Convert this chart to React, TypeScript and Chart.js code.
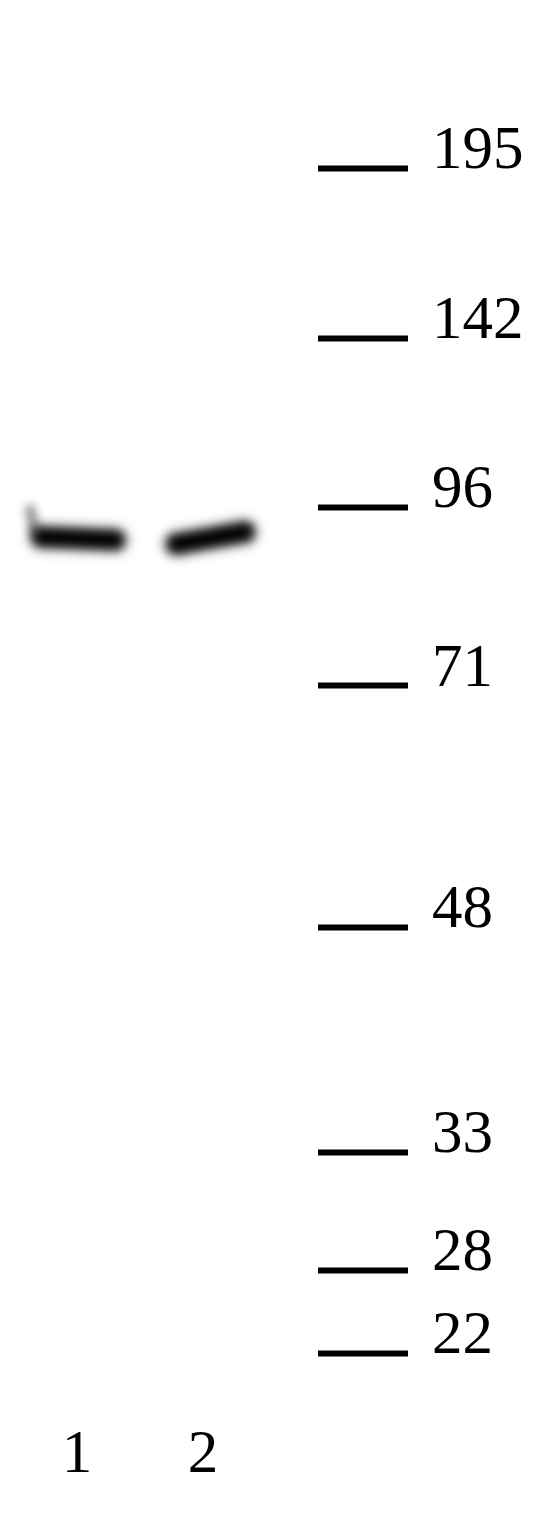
import { useEffect, useRef } from 'react'
import { Chart, ChartConfiguration, registerables } from 'chart.js'

Chart.register(...registerables)

// Molecular weight ladder (kDa) and where each marker ran (mm from the top of the gel)
const markerKDa = [195, 142, 96, 71, 48, 33, 28, 22]
const markerMigration = [8.4, 16.9, 25.35, 34.3, 46.35, 57.6, 63.5, 67.65]

// Lanes
const laneLabels = ['1', '2']
const lanePositions = [1, 2]

// Detected band per lane: left/right edge (lane units) and migration at each edge (mm)
const bandStart = [0.72, 1.79]
const bandEnd = [1.3, 2.33]
const bandMigStart = [26.85, 27.2]
const bandMigEnd = [27.0, 26.6]

// Faint smear at the left edge of lane 1
const smearX = [0.63, 0.66]
const smearMig = [25.5, 26.5]

const FONT = '"Liberation Serif", "Times New Roman", serif'

const bandLayers = [
  { width: 36, color: 'rgba(0,0,0,0.12)' },
  { width: 24, color: 'rgba(0,0,0,0.5)' },
  { width: 15, color: '#000' },
]

// soften the bands like a scanned film
const blurPlugin = {
  id: 'bandBlur',
  beforeDatasetsDraw(chart: Chart) {
    chart.ctx.save()
    chart.ctx.filter = 'blur(4px)'
  },
  afterDatasetsDraw(chart: Chart) {
    chart.ctx.restore()
  },
}

const WesternBlot = () => {
  const canvasRef = useRef<HTMLCanvasElement>(null)
  const chartRef = useRef<Chart | null>(null)

  useEffect(() => {
    const ctx = canvasRef.current?.getContext('2d')
    if (!ctx) return

    const datasets: any[] = [
      {
        type: 'line',
        label: 'smear',
        data: smearX.map((x, i) => ({ x, y: smearMig[i] })),
        borderColor: 'rgba(0,0,0,0.4)',
        borderWidth: 11,
        borderCapStyle: 'round',
        pointRadius: 0,
      },
    ]
    bandLayers.forEach(layer => {
      lanePositions.forEach((_, i) => {
        datasets.push({
          type: 'line',
          label: `lane ${laneLabels[i]}`,
          data: [
            { x: bandStart[i], y: bandMigStart[i] },
            { x: bandEnd[i], y: bandMigEnd[i] },
          ],
          borderColor: layer.color,
          borderWidth: layer.width,
          borderCapStyle: 'round',
          pointRadius: 0,
          tension: 0,
        })
      })
    })

    const config: ChartConfiguration = {
      type: 'line',
      data: { datasets },
      plugins: [blurPlugin],
      options: {
        animation: false,
        responsive: true,
        maintainAspectRatio: false,
        layout: { padding: 0 },
        plugins: {
          legend: { display: false },
          tooltip: { enabled: false },
        },
        scales: {
          x: {
            type: 'linear',
            position: 'bottom',
            min: 0.389,
            max: 2.913,
            grid: { display: false },
            border: { display: false },
            afterBuildTicks: (axis: any) => {
              axis.ticks = lanePositions.map(v => ({ value: v }))
            },
            afterFit: (axis: any) => {
              axis.height = 120
              axis.paddingLeft = 0
              axis.paddingRight = 0
            },
            ticks: {
              color: '#000',
              padding: 11,
              maxRotation: 0,
              autoSkip: false,
              font: { family: FONT, size: 61 },
              callback: (_v: any, i: number) => laneLabels[i],
            },
          },
          y: {
            type: 'linear',
            position: 'right',
            reverse: true,
            min: 0,
            max: 70,
            border: { display: false },
            grid: {
              drawOnChartArea: false,
              drawTicks: true,
              tickLength: 90,
              tickWidth: 6,
              tickColor: '#000',
            },
            afterBuildTicks: (axis: any) => {
              axis.ticks = markerMigration.map(v => ({ value: v }))
            },
            afterFit: (axis: any) => {
              axis.width = 225
              axis.paddingTop = 0
              axis.paddingBottom = 0
            },
            ticks: {
              color: '#000',
              padding: 24,
              labelOffset: -16,
              autoSkip: false,
              font: { family: FONT, size: 61 },
              callback: (_v: any, i: number) => String(markerKDa[i]),
            },
          },
        },
      },
    }

    chartRef.current = new Chart(ctx, config)

    return () => {
      chartRef.current?.destroy()
      chartRef.current = null
    }
  }, [])

  return (
    <div style={{ position: 'absolute', left: 0, top: 0, width: 543, height: 1520, background: '#fff' }}>
      <canvas ref={canvasRef} />
    </div>
  )
}

export default function App() {
  return <WesternBlot />
}
